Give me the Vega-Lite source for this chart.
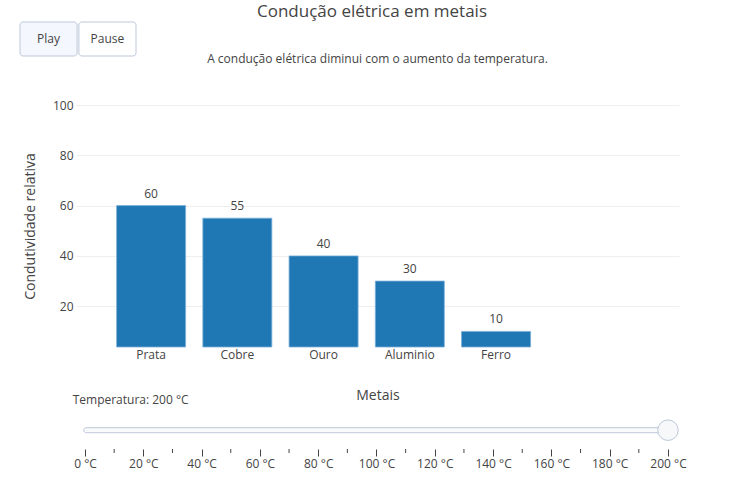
{
  "$schema": "https://vega.github.io/schema/vega-lite/v6.json",
  "padding": {"left": 19, "top": 3, "right": 5, "bottom": 5},
  "config": {
    "font": "Open Sans",
    "view": {"stroke": "transparent"},
    "title": {"fontWeight": "normal", "color": "#444"},
    "axis": {"labelColor": "#444", "titleColor": "#444", "titleFontWeight": "normal", "labelFontSize": 12}
  },
  "title": {"text": "Condução elétrica em metais", "fontSize": 17, "anchor": "start", "dx": 238, "offset": 0},
  "spacing": -10,
  "vconcat": [
    {
      "spacing": -5,
      "vconcat": [
        {
          "width": 116,
          "height": 34,
          "data": {"values": [{"b": "Play"}, {"b": "Pause"}]},
          "encoding": {
            "x": {"field": "b", "type": "nominal", "sort": null, "scale": {"paddingInner": 0.03, "paddingOuter": 0, "range": [-56, 60]}, "axis": null}
          },
          "layer": [
            {
              "mark": {"type": "rect", "stroke": "#bec8d9", "strokeWidth": 1, "cornerRadius": 3},
              "encoding": {
                "color": {"field": "b", "type": "nominal", "scale": {"domain": ["Play", "Pause"], "range": ["#f4f7fd", "#ffffff"]}, "legend": null}
              }
            },
            {
              "mark": {"type": "text", "fontSize": 12, "color": "#444", "baseline": "middle"},
              "encoding": {"text": {"field": "b"}}
            }
          ]
        },
        {
          "width": 603,
          "height": 242,
          "title": {"text": "A condução elétrica diminui com o aumento da temperatura.", "fontSize": 12, "anchor": "middle", "frame": "group", "offset": 33},
          "data": {"values": [
            {"metal": "Prata", "cond": 60},
            {"metal": "Cobre", "cond": 55},
            {"metal": "Ouro", "cond": 40},
            {"metal": "Aluminio", "cond": 30},
            {"metal": "Ferro", "cond": 10}
          ]},
          "encoding": {
            "x": {"field": "metal", "type": "nominal", "sort": null,
              "scale": {"domain": ["Prata", "Cobre", "Ouro", "Aluminio", "Ferro", " "], "paddingInner": 0.2, "paddingOuter": 0.596, "align": 0.395},
              "axis": {"title": "Metais", "labelAngle": 0, "ticks": false, "domain": false, "labelPadding": 2, "titlePadding": 28, "titleFontSize": 14}},
            "y": {"field": "cond", "type": "quantitative",
              "scale": {"domain": [3.8, 100], "nice": false, "zero": false},
              "axis": {"title": "Condutividade relativa", "values": [20, 40, 60, 80, 100], "ticks": false, "domain": false, "gridColor": "#eeeeee", "labelPadding": 3, "titlePadding": 15, "titleFontSize": 14}}
          },
          "layer": [
            {"mark": {"type": "bar", "color": "#1f77b4", "stroke": "#7aaed9", "strokeWidth": 0.8}, "encoding": {"y2": {"datum": 3.8}}},
            {"mark": {"type": "text", "baseline": "bottom", "dy": -5, "fontSize": 12, "color": "#444"}, "encoding": {"text": {"field": "cond"}}}
          ]
        }
      ]
    },
    {
      "width": 604,
      "height": 30,
      "title": {"text": "Temperatura: 200 °C", "fontSize": 12, "anchor": "start", "dx": -1, "offset": 11},
      "layer": [
        {
          "data": {"values": [{}]},
          "mark": {"type": "rect", "fill": "#f8fafc", "stroke": "#bec8d9", "strokeWidth": 1, "cornerRadius": 2.5},
          "encoding": {
            "x": {"datum": -0.45, "type": "quantitative",
              "scale": {"domain": [-3.09, 204.12], "nice": false, "zero": false},
              "axis": {"title": null, "values": [0, 20, 40, 60, 80, 100, 120, 140, 160, 180, 200], "labelExpr": "datum.value + ' °C'", "tickSize": 7, "tickColor": "#444", "domain": false, "grid": false, "labelFlush": false, "labelPadding": 2, "labelFontSize": 12}},
            "x2": {"datum": 200},
            "y": {"datum": 16.3, "type": "quantitative", "scale": {"domain": [0, 30], "nice": false, "zero": false}, "axis": null},
            "y2": {"datum": 21.3}
          }
        },
        {
          "data": {"values": [{"t": 10}, {"t": 30}, {"t": 50}, {"t": 70}, {"t": 90}, {"t": 110}, {"t": 130}, {"t": 150}, {"t": 170}, {"t": 190}]},
          "mark": {"type": "rule", "color": "#444", "strokeWidth": 1},
          "encoding": {
            "x": {"field": "t", "type": "quantitative"},
            "y": {"datum": 0},
            "y2": {"datum": -4}
          }
        },
        {
          "data": {"values": [{}]},
          "mark": {"type": "point", "filled": true, "fill": "#f6f8fa", "stroke": "#bec8d9", "strokeWidth": 1, "opacity": 1, "size": 420, "shape": "circle"},
          "encoding": {
            "x": {"datum": 200},
            "y": {"datum": 18.8}
          }
        }
      ]
    }
  ]
}
